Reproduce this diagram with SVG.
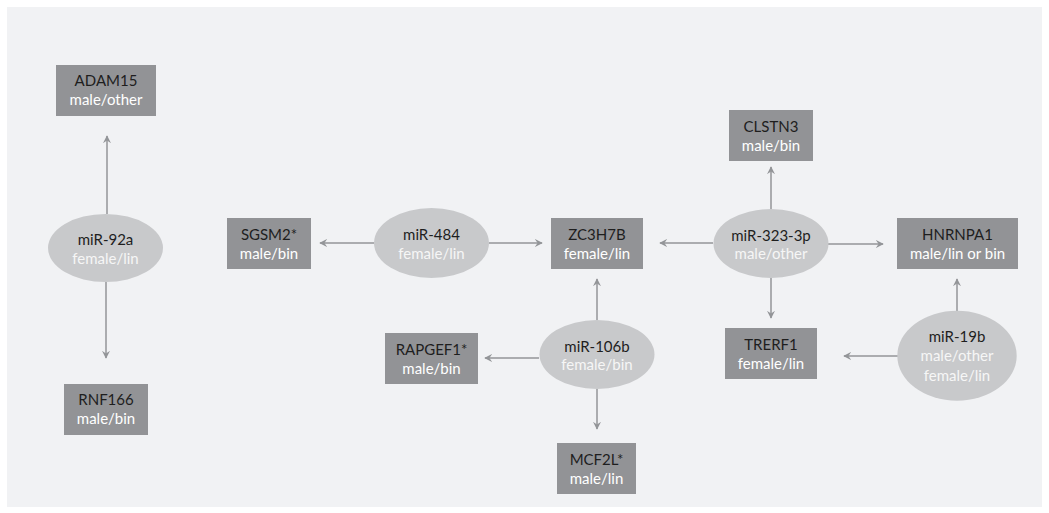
<svg xmlns="http://www.w3.org/2000/svg" width="1049" height="513" viewBox="0 0 1049 513">
<style>
.bg{fill:#f1f2f4}
.box{fill:#929396}
.mir{fill:#c8c9cb}
text{font-family:Lato,"Liberation Sans",sans-serif;font-size:15px;text-anchor:middle}
.t1{fill:#1e1e1e}
.t2{fill:#ffffff}
.t3{fill:#f6f6f6}
.c line{stroke:#939598;stroke-width:1.5;fill:none;marker-end:url(#ah)}
</style>
<defs>
<marker id="ah" viewBox="0 0 10 10" refX="9" refY="5" markerWidth="8" markerHeight="8" markerUnits="userSpaceOnUse" orient="auto">
<path d="M0,0 L10,5 L0,10 L3.5,5 Z" fill="#939598"/>
</marker>
</defs>
<rect class="bg" x="7" y="7" width="1035" height="500"/>
<g class="c" id="connectors">
<line x1="107" y1="214" x2="107" y2="136"/>
<line x1="106" y1="282" x2="106" y2="358"/>
<line x1="374" y1="243" x2="320" y2="243"/>
<line x1="489" y1="243" x2="542" y2="243"/>
<line x1="713" y1="243" x2="660" y2="243"/>
<line x1="828" y1="244" x2="883" y2="244"/>
<line x1="771" y1="209" x2="771" y2="167"/>
<line x1="771" y1="278" x2="771" y2="318"/>
<line x1="597" y1="320" x2="597" y2="279"/>
<line x1="539" y1="358" x2="485" y2="358"/>
<line x1="597" y1="389" x2="597" y2="429"/>
<line x1="957" y1="311" x2="957" y2="279"/>
<line x1="898" y1="356" x2="844" y2="356"/>
</g>
<g id="ADAM15"><rect class="box" x="56" y="65" width="100" height="51"/><text class="t1" x="106" y="86">ADAM15</text><text class="t2" x="106" y="105">male/other</text></g>
<g id="miR-92a"><ellipse class="mir" cx="105.5" cy="248" rx="57.5" ry="34"/><text class="t1" x="105.5" y="245">miR-92a</text><text class="t3" x="105.5" y="263.5">female/lin</text></g>
<g id="RNF166"><rect class="box" x="64" y="384" width="84" height="51"/><text class="t1" x="106" y="405">RNF166</text><text class="t2" x="106" y="424">male/bin</text></g>
<g id="SGSM2"><rect class="box" x="227" y="218" width="84" height="51"/><text class="t1" x="269" y="239.5">SGSM2*</text><text class="t2" x="269" y="258.5">male/bin</text></g>
<g id="miR-484"><ellipse class="mir" cx="431.5" cy="243" rx="57.5" ry="35"/><text class="t1" x="431.5" y="240">miR-484</text><text class="t3" x="431.5" y="258.5">female/lin</text></g>
<g id="ZC3H7B"><rect class="box" x="551" y="218" width="92" height="51"/><text class="t1" x="597" y="239.5">ZC3H7B</text><text class="t2" x="597" y="258.5">female/lin</text></g>
<g id="miR-323-3p"><ellipse class="mir" cx="771" cy="243.5" rx="57.5" ry="34.5"/><text class="t1" x="771" y="240.5">miR-323-3p</text><text class="t3" x="771" y="259">male/other</text></g>
<g id="CLSTN3"><rect class="box" x="729" y="110" width="84" height="51"/><text class="t1" x="771" y="131.5">CLSTN3</text><text class="t2" x="771" y="150.5">male/bin</text></g>
<g id="HNRNPA1"><rect class="box" x="897" y="218" width="121" height="51"/><text class="t1" x="957.5" y="239.5">HNRNPA1</text><text class="t2" x="957.5" y="258.5">male/lin or bin</text></g>
<g id="TRERF1"><rect class="box" x="725" y="328" width="92" height="51"/><text class="t1" x="771" y="349.5">TRERF1</text><text class="t2" x="771" y="368.5">female/lin</text></g>
<g id="miR-106b"><ellipse class="mir" cx="597" cy="354.5" rx="57.5" ry="34.5"/><text class="t1" x="597" y="351.5">miR-106b</text><text class="t3" x="597" y="370">female/bin</text></g>
<g id="RAPGEF1"><rect class="box" x="385" y="333" width="93" height="51"/><text class="t1" x="431.5" y="354.5">RAPGEF1*</text><text class="t2" x="431.5" y="373.5">male/bin</text></g>
<g id="MCF2L"><rect class="box" x="557" y="443" width="79" height="51"/><text class="t1" x="596.5" y="464.5">MCF2L*</text><text class="t2" x="596.5" y="483.5">male/lin</text></g>
<g id="miR-19b"><ellipse class="mir" cx="957" cy="355.7" rx="59.7" ry="45"/><text class="t1" x="957" y="341.7">miR-19b</text><text class="t3" x="957" y="361">male/other</text><text class="t3" x="957" y="380.5">female/lin</text></g>
</svg>
